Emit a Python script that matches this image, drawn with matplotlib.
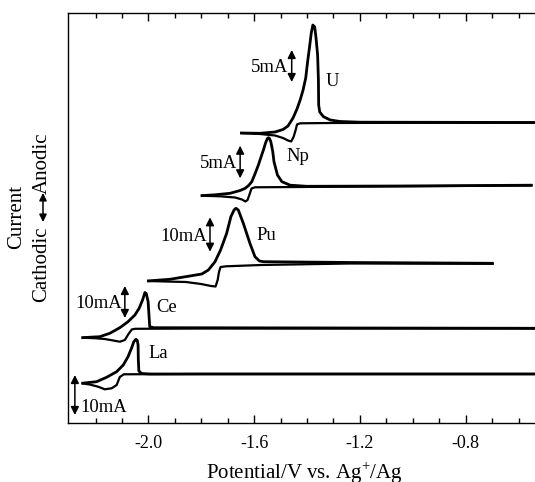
import matplotlib
matplotlib.use("Agg")
import matplotlib.pyplot as plt

plt.rcParams["font.family"] = ["Liberation Serif", "DejaVu Serif"]
plt.rcParams["mathtext.fontset"] = "custom"
plt.rcParams["mathtext.rm"] = "Liberation Serif"
plt.rcParams["axes.unicode_minus"] = False

# Cyclic voltammograms, stacked with vertical offsets (arbitrary current units).
# Potential in V vs. Ag+/Ag; each element has an anodic and a cathodic sweep.

# ---- U ----
u_an_v = [-1.653, -1.578, -1.521, -1.491, -1.472, -1.453, -1.438, -1.426, -1.415, -1.405,
          -1.398, -1.391, -1.384, -1.378, -1.371, -1.366, -1.360, -1.357, -1.356, -1.352,
          -1.338, -1.312, -1.275, -1.199, -0.50]
u_an_i = [290, 289.7, 291, 293.5, 297, 305, 314, 323, 333, 345,
          361, 375, 390, 398, 396, 385, 368, 343, 318, 311,
          306.3, 303, 301.5, 300.8, 300.5]
u_ca_v = [-0.50, -1.047, -1.312, -1.426, -1.438, -1.443, -1.451, -1.460, -1.472, -1.491,
          -1.521, -1.578, -1.653]
u_ca_i = [300.2, 300.2, 300, 299.7, 298.5, 293, 286, 281.5, 282.5, 285,
          287.5, 289, 290]

# ---- Np ----
np_an_v = [-1.802, -1.748, -1.691, -1.653, -1.634, -1.621, -1.609, -1.597, -1.584, -1.574,
           -1.565, -1.557, -1.550, -1.546, -1.542, -1.537, -1.530, -1.525, -1.512, -1.495,
           -1.464, -1.401, -1.047, -0.547]
np_an_i = [227.3, 228.2, 229.7, 232.5, 234.7, 237.5, 241.3, 249, 258, 266,
           273, 280, 284.5, 285.3, 284.5, 281.3, 272, 261.3, 248, 241.3,
           237.8, 236.7, 237, 237.8]
np_ca_v = [-0.547, -1.047, -1.426, -1.597, -1.610, -1.617, -1.625, -1.633, -1.646, -1.672,
           -1.729, -1.802]
np_ca_i = [237.5, 236.7, 236, 235.7, 234.5, 229, 223, 221.5, 223.5, 225.5,
           226.7, 227.3]

# ---- Pu ----
pu_an_v = [-2.005, -1.919, -1.843, -1.798, -1.773, -1.748, -1.727, -1.704, -1.688, -1.676,
           -1.669, -1.660, -1.641, -1.616, -1.597, -1.580, -1.565, -1.237, -0.694]
pu_an_i = [142, 143.7, 147, 149, 153, 161.3, 173, 189.7, 206.3, 213,
           214.7, 213, 199.7, 179.7, 166.3, 162, 161.3, 160.5, 159.7]
pu_ca_v = [-0.694, -1.237, -1.574, -1.706, -1.727, -1.733, -1.738, -1.746, -1.763, -1.801,
           -1.858, -1.934, -2.005]
pu_ca_i = [159.2, 159.5, 158, 156.7, 156, 151, 143, 136.5, 137, 139,
           141, 141.5, 142]

# ---- Ce ----
ce_an_v = [-2.253, -2.184, -2.146, -2.108, -2.077, -2.051, -2.035, -2.022, -2.016, -2.013,
           -2.008, -2.001, -1.997, -1.995, -1.980, -0.50]
ce_an_i = [85.3, 86.3, 89.7, 95.3, 101.3, 108, 114.7, 123, 128, 130.5,
           129.5, 121.3, 104.7, 96.3, 95.3, 94.7]
ce_ca_v = [-0.50, -1.805, -2.051, -2.063, -2.076, -2.089, -2.108, -2.133, -2.165, -2.203,
           -2.253]
ce_ca_i = [94.5, 94.5, 94.2, 93.5, 88.7, 83, 81.3, 82.5, 84, 84.8,
           85.3]

# ---- La ----
la_an_v = [-2.253, -2.196, -2.158, -2.120, -2.095, -2.077, -2.064, -2.055, -2.047, -2.042,
           -2.039, -2.038, -2.036, -2.026, -1.994, -0.50]
la_an_i = [39.7, 41.3, 45.7, 51.3, 58, 66.3, 74.7, 81.3, 83.7, 82.5,
           78, 63, 52, 49.5, 49, 49]
la_ca_v = [-0.50, -1.805, -2.093, -2.108, -2.120, -2.139, -2.165, -2.190, -2.222, -2.253]
la_ca_i = [49, 49, 48.7, 46, 38, 34.7, 33.7, 36.3, 38.5, 39.7]

# Element labels: (name, potential, current)
labels = ["U", "Np", "Pu", "Ce", "La"]
label_v = [-1.331, -1.479, -1.590, -1.970, -1.998]
label_i = [341.3, 266.3, 188.0, 115.0, 69.7]

# Current scale bars: (text, potential, lower end, upper end)
bar_text = ["5mA", "5mA", "10mA", "10mA", "10mA"]
bar_v = [-1.458, -1.653, -1.767, -2.089, -2.278]
bar_lo = [341, 244.7, 171.3, 105, 8]
bar_hi = [373, 277.3, 205.7, 137, 48]

W, H = 535, 482
fig = plt.figure(figsize=(W / 100, H / 100), dpi=100)
ax = fig.add_axes([68 / W, (H - 423) / H, (540 - 68) / W, (423 - 13) / H])

sweeps = [
    (u_an_v, u_an_i), (u_ca_v, u_ca_i),
    (np_an_v, np_an_i), (np_ca_v, np_ca_i),
    (pu_an_v, pu_an_i), (pu_ca_v, pu_ca_i),
    (ce_an_v, ce_an_i), (ce_ca_v, ce_ca_i),
    (la_an_v, la_an_i), (la_ca_v, la_ca_i),
]
for k, (v, i) in enumerate(sweeps):
    ax.plot(v, i, color="black", lw=2.0 if k % 2 == 0 else 1.6,
            solid_joinstyle="round", solid_capstyle="butt")

for name, v, i in zip(labels, label_v, label_i):
    ax.text(v, i, name, fontsize=13.4, ha="left", va="center")

for k, (txt, v, lo, hi) in enumerate(zip(bar_text, bar_v, bar_lo, bar_hi)):
    ax.annotate("", xy=(v, lo), xytext=(v, hi),
                arrowprops=dict(arrowstyle="<|-|>", color="black", lw=1.1,
                                mutation_scale=12, shrinkA=0, shrinkB=0))
    if k == len(bar_text) - 1:
        ax.text(v + 0.02, (lo + hi) / 2 - 12, txt, fontsize=13.4,
                ha="left", va="center")
    else:
        ax.text(v - 0.012, (lo + hi) / 2 - 2, txt, fontsize=13.4,
                ha="right", va="center")

ax.set_xlim(-2.304, -0.519)
ax.set_ylim(0, 410)
ax.set_xticks([-2.0, -1.6, -1.2, -0.8])
ax.set_xticklabels(["-2.0", "-1.6", "-1.2", "-0.8"], fontsize=13)
ax.set_xticks([-2.2 + 0.1 * k for k in range(17) if k % 4 != 2], minor=True)
ax.tick_params(axis="x", which="both", direction="in", top=True, bottom=True,
               width=1.0, pad=9)
ax.tick_params(axis="x", which="major", length=6)
ax.tick_params(axis="x", which="minor", length=3.5)
ax.set_yticks([])
for s in ("left", "top", "bottom"):
    ax.spines[s].set_linewidth(1.0)
ax.spines["right"].set_visible(False)

ax.set_xlabel("Potential/V vs. Ag$^{+}$/Ag", fontsize=15, labelpad=5)

# Two-line vertical axis title with a double-headed arrow between the words
fig.text(17 / W, 1 - 217 / H, "Current", rotation=90, fontsize=15,
         ha="center", va="center")
fig.text(42 / W, 1 - 302 / H, "Cathodic", rotation=90, fontsize=15,
         ha="center", va="bottom")
fig.text(42 / W, 1 - 133 / H, "Anodic", rotation=90, fontsize=15,
         ha="center", va="top")
fig.add_artist(matplotlib.patches.FancyArrowPatch(
    (43 / W, 1 - 222 / H), (43 / W, 1 - 193 / H), transform=fig.transFigure,
    arrowstyle="<|-|>", color="black", lw=1.1, mutation_scale=11,
    shrinkA=0, shrinkB=0))

fig.savefig("out.png", dpi=100)
